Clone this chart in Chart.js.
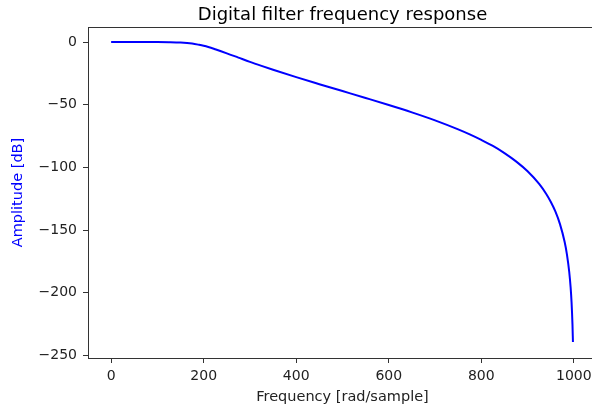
<!DOCTYPE html>
<html>
<head>
<meta charset="utf-8">
<script src="https://cdn.jsdelivr.net/npm/chart.js@4"></script>
<style>
  body { margin: 0; background: #fff; overflow: hidden; }
  #wrap { width: 592px; height: 412px; overflow: hidden; position: relative; }
  #freqResp { position: absolute; left: 0; top: 0; }
</style>
</head>
<body>
<div id="wrap"><canvas id="freqResp" width="640" height="412" style="width:640px;height:412px"></canvas></div>
<script>
// values
const freq = [0, 50, 100, 125, 150, 175, 190, 200, 210, 225, 250, 275, 300, 325, 350, 400, 450, 500,
  550, 600, 650, 700, 750, 775, 800, 825, 850, 875, 900, 925, 940, 950, 960, 970, 980, 985, 990, 993,
  995, 997, 998];
const ampl = [0, 0, 0, -0.1, -0.4, -1.2, -2.2, -3.0, -4.0, -5.8, -9.0, -12.4, -15.8, -19.0, -22.1,
  -28.0, -33.6, -39.1, -44.6, -50.2, -56.1, -62.5, -69.7, -73.7, -78.1, -82.9, -88.6, -95.2, -103.1,
  -113.2, -121.0, -127.4, -135.1, -145.2, -159.3, -169.3, -183.4, -195.7, -207.4, -225.2, -239.3];
const xTicks = [0, 200, 400, 600, 800, 1000];
const yTicks = [0, -50, -100, -150, -200, -250];
const titleText = 'Digital filter frequency response';

const pts = freq.map((f, i) => ({x: f, y: ampl[i]}));
const fontFam = "'DejaVu Sans', sans-serif";

// title centred over the axes, plus top/right spines
const frame = {
  id: 'frame',
  afterDraw(chart) {
    const {ctx, chartArea: a} = chart;
    ctx.save();
    ctx.strokeStyle = '#333';
    ctx.lineWidth = 1;
    ctx.beginPath();
    ctx.moveTo(a.left, a.top + 0.5);
    ctx.lineTo(a.right, a.top + 0.5);
    ctx.moveTo(a.right - 0.5, a.top);
    ctx.lineTo(a.right - 0.5, a.bottom);
    ctx.stroke();
    ctx.fillStyle = '#000';
    ctx.font = '18px ' + fontFam;
    ctx.textAlign = 'center';
    ctx.textBaseline = 'alphabetic';
    ctx.fillText(titleText, (a.left + a.right) / 2, 20);
    ctx.restore();
  }
};

var ctx = document.getElementById('freqResp').getContext('2d');
var chart = new Chart(ctx, {
  type: 'line',
  data: {
    datasets: [{
      data: pts,
      borderColor: '#0000ff',
      borderWidth: 2,
      pointRadius: 0,
      cubicInterpolationMode: 'monotone',
      fill: false
    }]
  },
  options: {
    responsive: false,
    animation: false,
    layout: { padding: { left: 0, right: 43, top: 27, bottom: 0 } },
    plugins: {
      legend: { display: false },
      tooltip: { enabled: false },
      title: { display: false }
    },
    scales: {
      x: {
        type: 'linear',
        min: -50,
        max: 1050,
        afterBuildTicks: s => { s.ticks = xTicks.map(v => ({value: v})); },
        afterFit: s => { s.height = 54; s.paddingLeft = 0; s.paddingRight = 0; },
        grid: { drawOnChartArea: false, drawTicks: true, tickLength: 5, color: '#333' },
        border: { display: true, color: '#333', width: 1 },
        ticks: {
          color: '#222',
          padding: 5,
          maxRotation: 0,
          font: { family: fontFam, size: 14 },
          callback: v => '' + v
        },
        title: {
          display: true,
          text: 'Frequency [rad/sample]',
          color: '#222',
          font: { family: fontFam, size: 14.5 },
          padding: { top: 0, bottom: 6 }
        }
      },
      y: {
        min: -252,
        max: 12,
        afterBuildTicks: s => { s.ticks = yTicks.map(v => ({value: v})); },
        afterFit: s => { s.width = 88; s.paddingTop = 0; s.paddingBottom = 0; },
        grid: { drawOnChartArea: false, drawTicks: true, tickLength: 5, color: '#333' },
        border: { display: true, color: '#333', width: 1 },
        ticks: {
          color: '#222',
          padding: 6,
          font: { family: fontFam, size: 14 },
          callback: v => v < 0 ? '\u2212' + Math.abs(v) : '' + v
        },
        title: {
          display: true,
          text: 'Amplitude [dB]',
          color: '#0000ff',
          font: { family: fontFam, size: 14.5 },
          padding: { top: 10, bottom: 0 }
        }
      }
    }
  },
  plugins: [frame]
});
</script>
</body>
</html>
